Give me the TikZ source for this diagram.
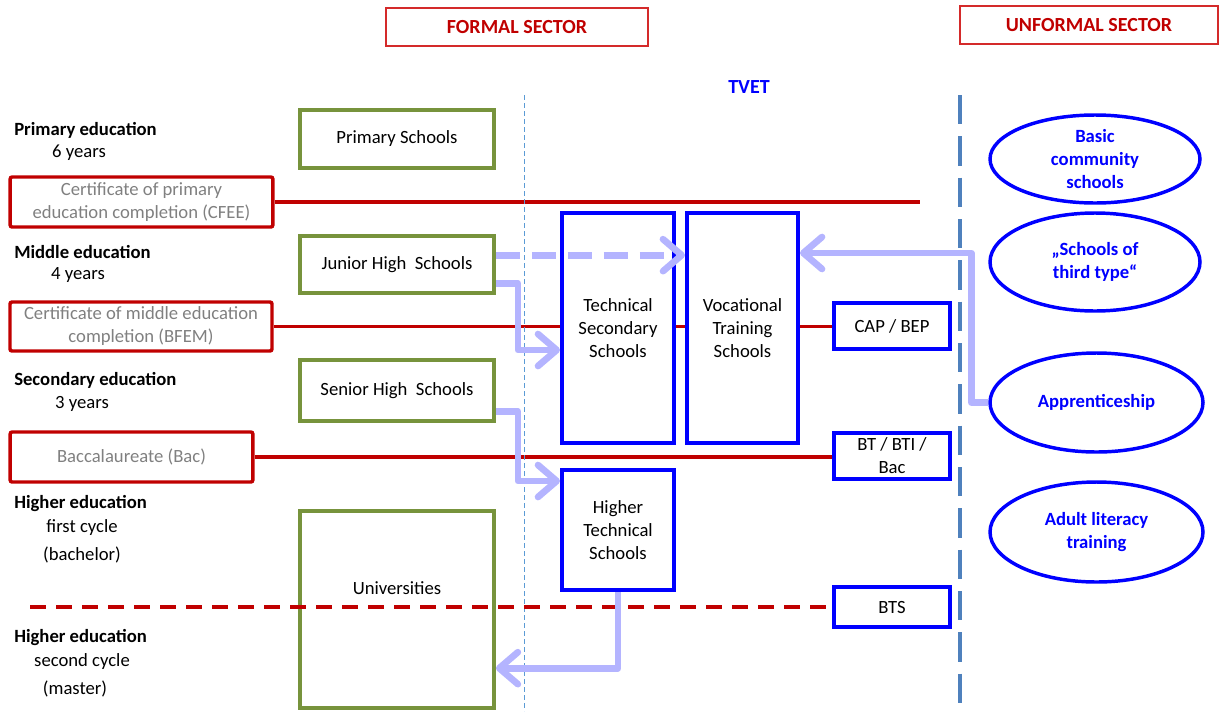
\documentclass[tikz,border=0pt]{standalone}
\usepackage{fontspec}
\setmainfont{Carlito}
\usetikzlibrary{
  arrows.meta,
  shapes.geometric,
  positioning,
  calc,
  backgrounds
}
\definecolor{edRed}{HTML}{C00000}
\definecolor{edHead}{HTML}{D42A2A}
\definecolor{edGray}{HTML}{808080}
\definecolor{edGreen}{HTML}{77933C}
\definecolor{edBlue}{HTML}{0000FF}
\definecolor{edSteel}{HTML}{4F81BD}
\definecolor{edSky}{HTML}{5B9BD5}
\definecolor{edFlow}{RGB}{180,180,255}
\tikzset{
  ednode/.style={
    draw, inner sep=2pt, align=center,
    font=\fontsize{14}{17.25}\selectfont
  },
  school/.style={ednode, draw=edGreen, line width=2.8pt},
  tvetbox/.style={ednode, draw=edBlue, line width=3pt, fill=white},
  cert/.style={ednode, draw=edRed, line width=2.6pt, rounded corners=1.5pt, text=edGray},
  informal/.style={
    ellipse, draw=edBlue, line width=2.6pt, inner sep=0pt, align=center,
    text=edBlue, font=\fontsize{14}{17.25}\selectfont\bfseries
  },
  sector/.style={
    draw=edHead, line width=1pt, inner sep=0pt,
    text=edRed, font=\fontsize{15}{18}\selectfont\bfseries
  },
  levelname/.style={anchor=west, inner sep=0pt, font=\fontsize{14}{17}\selectfont\bfseries},
  levelsub/.style={inner sep=0pt, font=\fontsize{14}{17}\selectfont},
  diploma/.style={draw=edRed, line width=2.6pt},
  diplomadash/.style={diploma, dash pattern=on 12pt off 7.5pt},
  pathway/.style={
    draw=edFlow, line width=5pt, line join=round,
    -{Straight Barb[length=14pt, width=24pt, round]}
  }
}

\begin{document}
\begin{tikzpicture}[x=0.75pt, y=-0.75pt]
  \useasboundingbox (0,0) rectangle (1219,711);

  % sector headings
  \node[sector, minimum width=196.5pt, minimum height=28.5pt] (formal) at (517,27) {FORMAL SECTOR};
  \node[sector, minimum width=193.5pt, minimum height=28.5pt] (unformal) at (1089,25) {UNFORMAL SECTOR};
  \node[text=edBlue, font=\fontsize{15}{18}\selectfont\bfseries] (tvet) at (749,87) {TVET};

  % separators
  \draw[edSky, line width=0.75pt, dash pattern=on 4pt off 2pt] (524,95) -- (524,711);
  \draw[edSteel, line width=2.3pt, dash pattern=on 22pt off 9pt] (960,95) -- (960,708);

  % levels
  \node[levelname] (primlbl) at (14,130) {Primary education};
  \node[levelsub] (primyrs) at (79,153) {6 years};
  \node[levelname] (midlbl) at (14,252) {Middle education};
  \node[levelsub] (midyrs) at (78,275) {4 years};
  \node[levelname] (seclbl) at (14,380) {Secondary education};
  \node[levelsub] (secyrs) at (82,404) {3 years};
  \node[levelname] (hionelbl) at (14,504) {Higher education};
  \node[levelsub] (hionea) at (82,528) {first cycle};
  \node[levelsub] (hioneb) at (82,555) {(bachelor)};
  \node[levelname] (hitwolbl) at (14,638) {Higher education};
  \node[levelsub] (hitwoa) at (82,662) {second cycle};
  \node[levelsub] (hitwob) at (75,689) {(master)};

  % certificates
  \node[cert, minimum width=197pt, minimum height=37.5pt] (cfee) at (141.5,202)
    {Certificate of primary\\education completion (CFEE)};
  \node[cert, minimum width=196.5pt, minimum height=36.75pt] (bfem) at (141,326.5)
    {Certificate of middle education\\completion (BFEM)};
  \node[cert, minimum width=182pt, minimum height=37.5pt] (bac) at (131.5,457)
    {Baccalaureate (Bac)};

  % general schools
  \node[school, minimum width=145.5pt, minimum height=43.5pt] (prim) at (397,139) {Primary Schools};
  \node[school, minimum width=145.5pt, minimum height=42.75pt] (junior) at (397,264.5) {Junior High~ Schools};
  \node[school, minimum width=145.5pt, minimum height=45.75pt] (senior) at (397,390.5) {Senior High~ Schools};
  \node[school, minimum width=145.5pt, minimum height=147.75pt] (univ) at (397,609.5) {};
  \node[ednode, draw=none] (univtxt) at (397,588) {Universities};

  % technical and vocational schools
  \node[tvetbox, minimum width=84pt, minimum height=172.5pt] (tech) at (618,328)
    {Technical\\Secondary\\Schools};
  \node[tvetbox, minimum width=83.25pt, minimum height=172.5pt] (voc) at (742.5,328)
    {Vocational\\Training\\Schools};
  \node[tvetbox, minimum width=84pt, minimum height=90pt] (higher) at (618,530)
    {Higher\\Technical\\Schools};
  \node[tvetbox, minimum width=87pt, minimum height=34.5pt] (cap) at (892,326) {CAP / BEP};
  \node[tvetbox, minimum width=87pt, minimum height=34.5pt] (bt) at (892,456) {BT / BTI /\\Bac};
  \node[tvetbox, minimum width=87pt, minimum height=30pt] (bts) at (892,607) {BTS};

  % unformal sector
  \node[informal, minimum width=157.5pt, minimum height=66pt] (basic) at (1095,159)
    {Basic\\community\\schools};
  \node[informal, minimum width=157.5pt, minimum height=73.5pt] (third) at (1095,262)
    {„Schools of\\third type“};
  \node[informal, minimum width=159.75pt, minimum height=74.25pt] (appr) at (1096.5,402.5)
    {Apprenticeship};
  \node[informal, minimum width=159.75pt, minimum height=75pt] (adult) at (1096.5,532)
    {Adult literacy\\training};

  % diploma lines
  \coordinate (cfeeend) at (920,202);
  \coordinate (cycleend) at (30,607);
  \begin{scope}[on background layer]
    \draw[diploma] (cfee.east) -- (cfeeend);
    \draw[diploma] (bfem.east) -- (bfem.east -| cap.west);
    \draw[diploma] (bac.east) -- (bac.east -| bt.west);
  \end{scope}
  \draw[diplomadash] (cycleend) -- (bts.west);

  % pathways
  \draw[pathway, dash pattern=on 18pt off 9pt] ([yshift=7pt]junior.east) -- ([yshift=7pt]junior.east -| voc.west);
  \draw[pathway] ([yshift=-14pt]junior.east) -- ++(22,0) |- ([yshift=-16.5pt]tech.west);
  \draw[pathway] ([yshift=-15.5pt]senior.east) -- ++(22,0) |- ([yshift=36.75pt]higher.west);
  \draw[pathway] (higher.south) |- ([yshift=-44pt]univ.east);
  \draw[pathway] (appr.west) -- ++(-17,0) |- ([yshift=56.25pt]voc.east);
\end{tikzpicture}
\end{document}
